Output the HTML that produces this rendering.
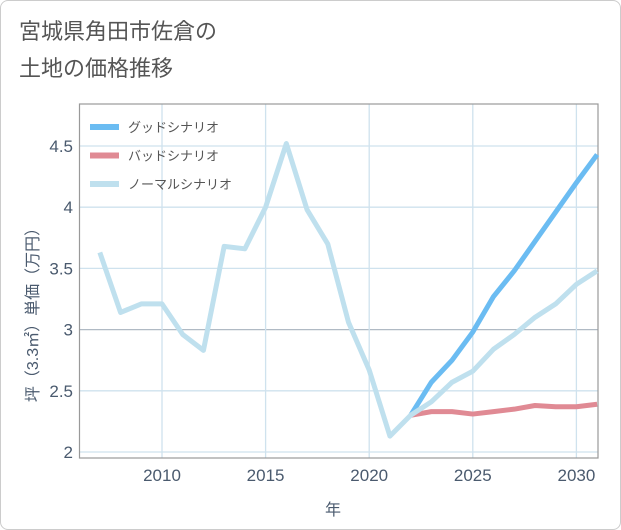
<!DOCTYPE html>
<html><head><meta charset="utf-8"><style>
body{margin:0;background:#fff;}
#card{position:absolute;left:0;top:0;width:619px;height:528px;border:1px solid #ccc;border-radius:8px;background:#fff;overflow:hidden;font-family:"Liberation Sans","Noto Sans CJK JP",sans-serif;}
#title{position:absolute;left:18px;top:12px;font-size:22px;line-height:37px;color:#555;}
</style></head><body>
<div id="card">
<div id="title">宮城県角田市佐倉の<br>土地の価格推移</div>
<svg id="chart" width="621" height="530" style="position:absolute;left:0;top:0"></svg>
</div>
<script>
const years=[2007,2008,2009,2010,2011,2012,2013,2014,2015,2016,2017,2018,2019,2020,2021,2022,2023,2024,2025,2026,2027,2028,2029,2030,2031];
const normal=[3.63,3.14,3.21,3.21,2.96,2.83,3.68,3.66,4.0,4.52,3.98,3.70,3.06,2.67,2.13,2.30,2.41,2.57,2.66,2.84,2.96,3.10,3.21,3.37,3.48];
const futureYears=[2022,2023,2024,2025,2026,2027,2028,2029,2030,2031];
const good=[2.30,2.57,2.75,2.98,3.27,3.48,3.72,3.96,4.20,4.43];
const bad=[2.30,2.33,2.33,2.31,2.33,2.35,2.38,2.37,2.37,2.39];
const xTicks=[2010,2015,2020,2025,2030];
const yTicks=[2,2.5,3,3.5,4,4.5];
const yTickLabels=["2","2.5","3","3.5","4","4.5"];
const L=78.5,R=597,T=103,B=457;
const X=y=>161+(y-2010)*20.72;
const Y=v=>451-(v-2)*122.4;
const svg=document.getElementById('chart');
const NS='http://www.w3.org/2000/svg';
function mk(tag,attrs,parent){const e=document.createElementNS(NS,tag);for(const k in attrs)e.setAttribute(k,attrs[k]);(parent||svg).appendChild(e);return e;}
const grid=mk('g',{});


yTicks.forEach((v,i)=>{
 const ln=mk('line',{x1:L,x2:R,y1:Y(v),y2:Y(v),stroke:v===3?'#b0bac4':'#cfe2ee','stroke-width':1.3},grid);
 
 
 const t=mk('text',{x:72,y:Y(v)+6,'text-anchor':'end','font-size':17,fill:'#4a5a6e'});
 t.textContent=yTickLabels[i];
 
 
});
xTicks.forEach(v=>{
 const ln=mk('line',{x1:X(v),x2:X(v),y1:T,y2:B,stroke:'#cfe2ee','stroke-width':1.3},grid);
 
 
 const t=mk('text',{x:X(v),y:480,'text-anchor':'middle','font-size':17,fill:'#4a5a6e'});
 t.textContent=v;
 
 
});
const frame=mk('rect',{x:L,y:T,width:R-L,height:B-T,fill:'none',stroke:'#999','stroke-width':1.2});


function line(xs,vs,color,name){
 const p=mk('polyline',{points:xs.map((y,i)=>X(y)+','+Y(vs[i])).join(' '),fill:'none',stroke:color,'stroke-width':5,'stroke-linejoin':'round'});
 
 
}
line(futureYears,bad,'#e08a94','bad-scenario-line');
line(futureYears,good,'#6bbcf2','good-scenario-line');
line(years,normal,'#bfe0ee','normal-scenario-line');
const leg=[['グッドシナリオ','#6bbcf2'],['バッドシナリオ','#e08a94'],['ノーマルシナリオ','#bfe0ee']];
leg.forEach((d,i)=>{
 const g=mk('g',{});
 
 
 const y=126+i*28.5;
 mk('line',{x1:89,x2:118,y1:y,y2:y,stroke:d[1],'stroke-width':6},g);
 const t=mk('text',{x:127,y:y+5,'font-size':13,fill:'#555'},g);
 t.textContent=d[0];
});
const yt=mk('text',{x:0,y:0,'font-size':16,fill:'#4a5a6e','text-anchor':'middle',transform:'translate(37,310) rotate(-90)'});
yt.textContent='坪（3.3㎡）単価（万円）';


const xt=mk('text',{x:332,y:514,'font-size':16,fill:'#4a5a6e','text-anchor':'middle'});
xt.textContent='年';


</script>
</body></html>
